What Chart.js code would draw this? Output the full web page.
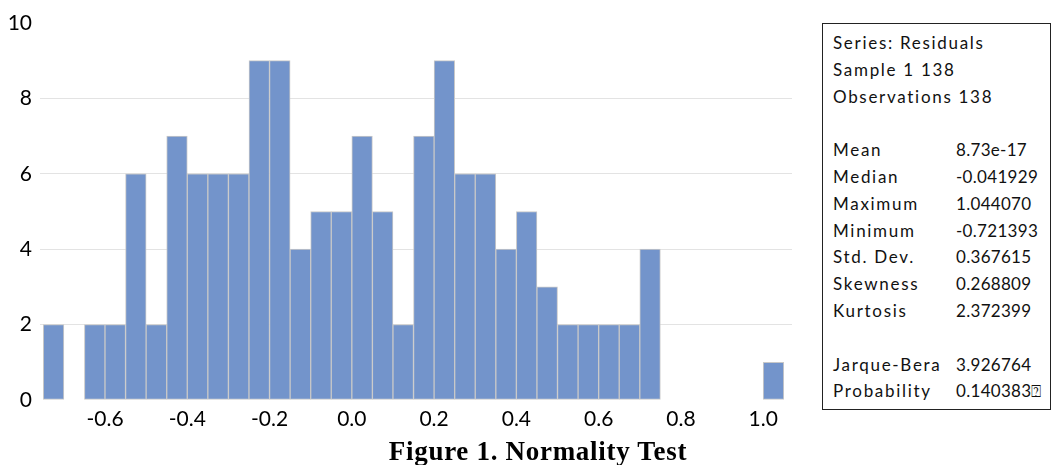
<!DOCTYPE html>
<html>
<head>
<meta charset="utf-8">
<script src="https://cdn.jsdelivr.net/npm/chart.js@4.4.1/dist/chart.umd.min.js"></script>
<style>
  html, body { margin: 0; padding: 0; background: #fff; }
  body { width: 1053px; height: 465px; position: relative; overflow: hidden; }
  #chartBox { position: absolute; left: 0; top: 0; width: 800px; height: 440px; }
  #title {
    position: absolute; left: 0; top: 436px; width: 1076px;
    text-align: center; font: bold 27px "Liberation Serif", serif; color: #000;
    letter-spacing: 0.7px;
  }
  #stats {
    position: absolute; left: 822px; top: 23px; width: 229px; height: 387px;
    border: 1.5px solid #222; box-sizing: border-box;
    font-family: Lato, sans-serif; font-size: 17px; color: #111;
  }
  #stats .lbl, #stats .val { position: absolute; height: 27px; line-height: 27px; white-space: nowrap; }
  #stats .lbl { left: 10px; letter-spacing: 1.7px; }
  #stats .val { left: 133px; letter-spacing: 0.3px; }
</style>
</head>
<body>
<div id="chartBox"><canvas id="chartResiduals"></canvas></div>
<div id="title">Figure 1. Normality Test</div>
<div id="stats"></div>

<script>
/* Histogram data (bins of 0.05) */
const binLo = [
  -0.75, -0.70, -0.65, -0.60, -0.55, -0.50, -0.45, -0.40, -0.35, -0.30,
  -0.25, -0.20, -0.15, -0.10, -0.05, 0.00, 0.05, 0.10, 0.15, 0.20,
  0.25, 0.30, 0.35, 0.40, 0.45, 0.50, 0.55, 0.60, 0.65, 0.70,
  0.75, 0.80, 0.85, 0.90, 0.95, 1.00,
];
const binWidth = 0.05;
const counts = [
  2, 0, 2, 2, 6, 2, 7, 6, 6, 6,
  9, 9, 4, 5, 5, 7, 5, 2, 7, 9,
  6, 6, 4, 5, 3, 2, 2, 2, 2, 4,
  0, 0, 0, 0, 0, 1,
];
const xTicks = [-0.6, -0.4, -0.2, 0.0, 0.2, 0.4, 0.6, 0.8, 1.0];
const yTicks = [0, 2, 4, 6, 8, 10];

/* Descriptive statistics */
const statLabels = [
  'Series: Residuals', 'Sample 1 138', 'Observations 138', '',
  'Mean', 'Median', 'Maximum', 'Minimum', 'Std. Dev.', 'Skewness', 'Kurtosis', '',
  'Jarque-Bera', 'Probability',
];
const statValues = [
  '', '', '', '',
  '8.73e-17', '-0.041929', '1.044070', '-0.721393', '0.367615', '0.268809', '2.372399', '',
  '3.926764', '0.140383\u2370',
];

$stats = document.getElementById('stats');
statLabels.forEach((label, i) => {
  const top = 5 + i * 26.8;
  const l = document.createElement('div');
  l.className = 'lbl';
  l.style.top = top + 'px';
  l.textContent = label;
  $stats.appendChild(l);
  if (statValues[i]) {
    const v = document.createElement('div');
    v.className = 'val';
    v.style.top = top + 'px';
    v.textContent = statValues[i];
    $stats.appendChild(v);
  }
});

/* Histogram */
Chart.defaults.font.family = 'Lato';
Chart.defaults.color = '#000';

const points = [];
for (let i in binLo) points.push({ x: binLo[i] + binWidth / 2, y: counts[i] });

const ctx = document.getElementById('chartResiduals').getContext('2d');
const chartResiduals = new Chart(ctx, {
  type: 'bar',
  data: {
    datasets: [
      {
        data: points,
        backgroundColor: '#7394cb',
        borderColor: '#c8c8c8',
        borderWidth: 1,
        borderSkipped: false,
        barPercentage: 1,
        categoryPercentage: 1,
      },
    ],
  },
  options: {
    responsive: true,
    maintainAspectRatio: false,
    animation: false,
    layout: { padding: { top: 23, right: 8, left: 0, bottom: 0 } },
    scales: {
      x: {
        type: 'linear',
        min: -0.758,
        max: 1.07,
        offset: false,
        grid: { display: false, drawTicks: false, offset: false },
        border: { display: false },
        afterBuildTicks: (scale) => {
          scale.ticks = xTicks.map((v) => ({ value: v }));
        },
        afterFit: (scale) => {
          scale.height = 40;
        },
        ticks: {
          font: { size: 21 },
          padding: 7,
          maxRotation: 0,
          autoSkip: false,
          callback: (v) => v.toFixed(1),
        },
      },
      y: {
        min: 0,
        max: 10,
        grid: {
          drawTicks: false,
          lineWidth: 1,
          color: (c) => (c.tick.value > 0 && c.tick.value < 10 ? '#e3e3e3' : 'rgba(0,0,0,0)'),
        },
        border: { display: false },
        afterBuildTicks: (scale) => {
          scale.ticks = yTicks.map((v) => ({ value: v }));
        },
        afterFit: (scale) => {
          scale.width = 40;
        },
        ticks: {
          font: { size: 21 },
          padding: 8,
        },
      },
    },
    plugins: {
      legend: { display: false },
      tooltip: { enabled: false },
    },
  },
});
</script>
</body>
</html>
